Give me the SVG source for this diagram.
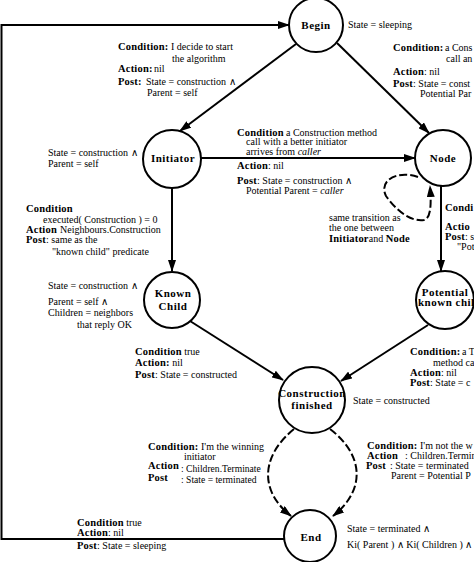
<svg xmlns="http://www.w3.org/2000/svg" width="474" height="562" viewBox="0 0 474 562">
<defs>
<marker id="ah" markerUnits="userSpaceOnUse" markerWidth="12" markerHeight="8" refX="11" refY="4" orient="auto">
<path d="M0,0 L12,4 L0,8 z" fill="#000"/>
</marker>
<style>
.t{font-family:"Liberation Serif",serif;font-size:10px;fill:#000}
.s{font-size:9.6px}
.b{font-weight:bold;letter-spacing:0.2px;font-size:10.5px}
.i{font-style:italic}
.n{font-family:"Liberation Serif",serif;font-weight:bold;font-size:11px;letter-spacing:0.5px;text-anchor:middle;fill:#000}
.c{fill:#fff;stroke:#000;stroke-width:2}
.l{fill:none;stroke:#000;stroke-width:2}
.d{fill:none;stroke:#000;stroke-width:2;stroke-dasharray:8,3}
</style>
</defs>
<rect width="474" height="562" fill="#fff"/>

<g id="connectors">
<polyline class="l" points="286,539 1.5,539 1.5,25 289,25" marker-end="url(#ah)"/>
<line class="l" x1="296" y1="44" x2="180" y2="131" marker-end="url(#ah)"/>
<line class="l" x1="337" y1="43" x2="429" y2="133" marker-end="url(#ah)"/>
<line class="l" x1="201" y1="158" x2="415" y2="158" marker-end="url(#ah)"/>
<line class="l" x1="172" y1="188" x2="172" y2="271" marker-end="url(#ah)"/>
<line class="l" x1="441" y1="186" x2="441" y2="271" marker-end="url(#ah)"/>
<line class="l" x1="190" y1="321" x2="283" y2="380" marker-end="url(#ah)"/>
<line class="l" x1="428" y1="325" x2="341" y2="381" marker-end="url(#ah)"/>
<path class="d" d="M294,429 C262,455 258,490 291,516" marker-end="url(#ah)"/>
<path class="d" d="M330,429 C364,455 366,490 333,516" marker-end="url(#ah)"/>
<path class="d" d="M418,177 C398,170 378,180 386,196 C396,210 410,222 424,220 C432,218 431,200 430,186" marker-end="url(#ah)"/>
</g>

<g id="begin">
<circle class="c" cx="316" cy="25" r="27"/>
<text class="n" x="316" y="29">Begin</text>
<text class="t" x="348" y="28">State = sleeping</text>
</g>

<g id="initiator">
<circle class="c" cx="172" cy="159" r="29"/>
<text class="n" x="173" y="162">Initiator</text>
<text class="t" x="48" y="156">State = construction  ∧</text>
<text class="t" x="48" y="167">Parent = self</text>
</g>

<g id="node">
<circle class="c" cx="443" cy="158" r="28"/>
<text class="n" x="443" y="162">Node</text>
</g>

<g id="known-child">
<circle class="c" cx="172" cy="300" r="28"/>
<text class="n" x="173" y="297">Known</text>
<text class="n" x="173" y="310">Child</text>
<text class="t" x="48" y="289">State = construction  ∧</text>
<text class="t" x="48" y="305">Parent = self ∧</text>
<text class="t" x="48" y="316">Children = neighbors</text>
<text class="t" x="77" y="328">that reply OK</text>
</g>

<g id="potential-known-child">
<circle class="c" cx="445" cy="300" r="29"/>
<text class="n" x="445" y="296">Potential</text>
<text class="n" x="418" y="306" style="text-anchor:start">known chil</text>
</g>

<g id="construction-finished">
<circle class="c" cx="312" cy="400" r="33"/>
<text class="n" x="312" y="397">Construction</text>
<text class="n" x="312" y="409">finished</text>
<text class="t" x="353" y="404">State = constructed</text>
</g>

<g id="end">
<circle class="c" cx="310" cy="536" r="26"/>
<text class="n" x="311" y="541">End</text>
<text class="t" x="347" y="532">State = terminated  ∧</text>
<text class="t" x="347" y="548">Ki( Parent ) ∧ Ki( Children ) ∧</text>
</g>

<g id="labels">
<text class="t" x="118" y="50"><tspan class="b">Condition:</tspan><tspan x="171">I decide to start</tspan></text>
<text class="t" x="172" y="62">the algorithm</text>
<text class="t" x="118" y="72"><tspan class="b">Action:</tspan><tspan x="154">nil</tspan></text>
<text class="t" x="118" y="85"><tspan class="b">Post:</tspan><tspan x="146">State = construction  ∧</tspan></text>
<text class="t" x="147" y="96">Parent = self</text>

<text class="t" x="393" y="51"><tspan class="b">Condition:</tspan><tspan x="445">a Cons</tspan></text>
<text class="t" x="446" y="62">call an</text>
<text class="t" x="393" y="75"><tspan class="b">Action</tspan>: nil</text>
<text class="t" x="393" y="87"><tspan class="b">Post</tspan>: State = const</text>
<text class="t" x="420" y="97">Potential Par</text>

<text class="t" x="237" y="136"><tspan class="b">Condition</tspan><tspan x="286">a Construction method</tspan></text>
<text class="t" x="246" y="145">call with a better initiator</text>
<text class="t" x="246" y="155">arrives from <tspan class="i">caller</tspan></text>
<text class="t" x="237" y="169"><tspan class="b">Action</tspan>: nil</text>
<text class="t" x="237" y="184"><tspan class="b">Post</tspan>: State = construction  ∧</text>
<text class="t" x="246" y="194">Potential Parent = <tspan class="i">caller</tspan></text>

<text class="t" x="329" y="221">same transition as</text>
<text class="t" x="329" y="231">the one between</text>
<text class="t" x="329" y="242"><tspan class="b">Initiator</tspan>and <tspan class="b">Node</tspan></text>

<text class="t" x="26" y="212"><tspan class="b">Condition</tspan></text>
<text class="t" x="43" y="223">executed( Construction ) = 0</text>
<text class="t" x="26" y="233"><tspan class="b">Action</tspan><tspan x="60">Neighbours.Construction</tspan></text>
<text class="t" x="26" y="243"><tspan class="b">Post</tspan>: same as the</text>
<text class="t" x="52" y="255">"known child" predicate</text>

<text class="t" x="445" y="211"><tspan class="b">Condi</tspan></text>
<text class="t" x="445" y="230"><tspan class="b">Actio</tspan></text>
<text class="t" x="445" y="240"><tspan class="b">Post</tspan>: s</text>
<text class="t" x="457" y="250">"Pote</text>

<text class="t" x="135" y="355"><tspan class="b">Condition</tspan> true</text>
<text class="t" x="135" y="366"><tspan class="b">Action:</tspan> nil</text>
<text class="t" x="135" y="378"><tspan class="b">Post</tspan>: State = constructed</text>

<text class="t" x="410" y="355"><tspan class="b">Condition:</tspan><tspan x="462">a T</tspan></text>
<text class="t" x="433" y="366">method ca</text>
<text class="t" x="410" y="376"><tspan class="b">Action</tspan>: nil</text>
<text class="t" x="410" y="386"><tspan class="b">Post</tspan>: State = c</text>

<text class="t" x="148" y="450"><tspan class="b">Condition:</tspan><tspan x="201">I'm the winning</tspan></text>
<text class="t" x="184" y="460">initiator</text>
<text class="t" x="148" y="469"><tspan class="b">Action</tspan><tspan class="s" x="181" y="472">: Children.Terminate</tspan></text>
<text class="t" x="148" y="481"><tspan class="b">Post</tspan><tspan class="s" x="181" y="483">: State = terminated</tspan></text>

<text class="t" x="367" y="449"><tspan class="b">Condition:</tspan><tspan x="420">I'm not the w</tspan></text>
<text class="t" x="367" y="459"><tspan class="b">Action</tspan><tspan x="405">: Children.Termin</tspan></text>
<text class="t" x="366" y="469"><tspan class="b">Post</tspan><tspan x="390">: State = terminated</tspan></text>
<text class="t" x="391" y="479">Parent = Potential P</text>

<text class="t" x="77" y="526"><tspan class="b">Condition</tspan> true</text>
<text class="t" x="77" y="536"><tspan class="b">Action</tspan>: nil</text>
<text class="t" x="77" y="549"><tspan class="b">Post</tspan>: State = sleeping</text>
</g>
</svg>
